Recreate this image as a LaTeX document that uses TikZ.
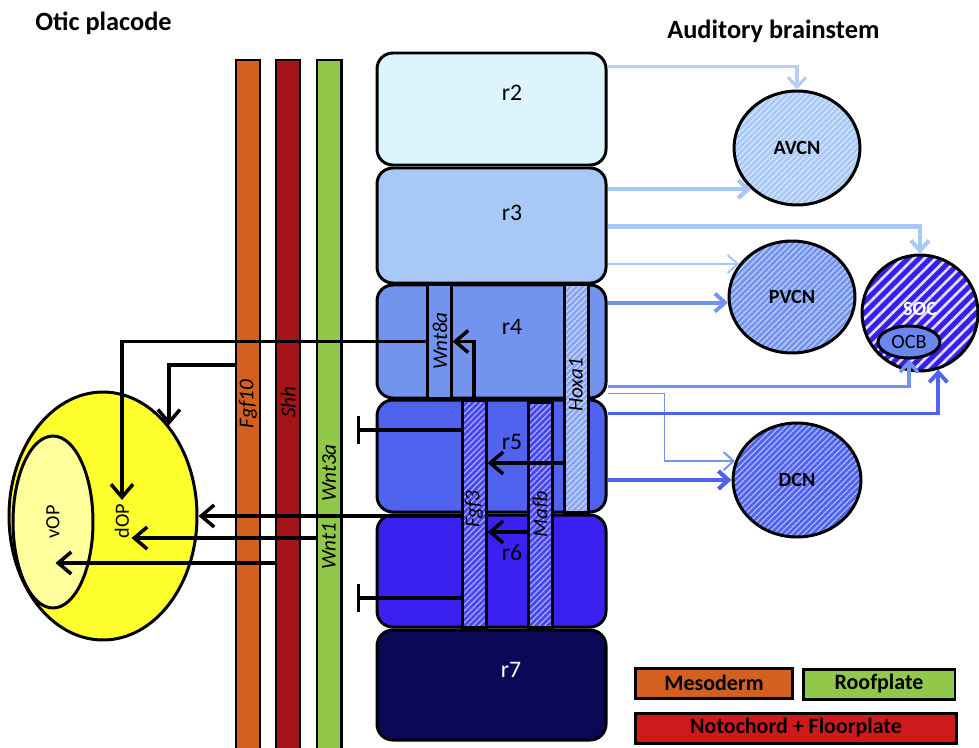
\documentclass[tikz,border=0pt]{standalone}
\usepackage{fontspec}
\setmainfont{Carlito}
\usetikzlibrary{arrows.meta,positioning,fit,calc,patterns.meta,shapes.geometric}
\definecolor{mesoorange}{HTML}{D4601F}
\definecolor{shhred}{HTML}{A51419}
\definecolor{roofgreen}{HTML}{92C84A}
\definecolor{notored}{HTML}{CE1A1C}
\definecolor{oticyellow}{HTML}{FFFF2E}
\definecolor{vopyellow}{HTML}{FFFF9C}
\definecolor{rtwo}{HTML}{DCF4FC}
\definecolor{rthree}{HTML}{A8C8F5}
\definecolor{rfour}{HTML}{7394EE}
\definecolor{rfive}{HTML}{4F63EE}
\definecolor{rsix}{HTML}{3B20F2}
\definecolor{rseven}{HTML}{0B0957}
\definecolor{arrtwo}{HTML}{B5CFF6}
\definecolor{hoxblue}{HTML}{8AA5F2}
\definecolor{fgfblue}{HTML}{4747F0}
\definecolor{socblue}{HTML}{3A1EEF}
\definecolor{ocbblue}{HTML}{6A86F0}
\tikzset{
  sigbar/.style={draw, line width=1.7pt, inner sep=0pt},
  rhombo/.style={draw, line width=1.7pt, rounded corners=9pt, inner sep=0pt},
  genebar/.style={draw, line width=1.7pt, inner sep=0pt},
  hatched/.style={preaction={fill=#1}, pattern={Lines[angle=45,distance=2.4pt,line width=0.7pt]}, pattern color=white!55!#1},
  nucleus/.style={ellipse, draw, line width=1.7pt, inner sep=0pt, font=\fontsize{11.5}{13}\selectfont\bfseries},
  gene/.style={rotate=90, inner sep=0pt, font=\fontsize{12}{14}\selectfont\itshape},
  oplabel/.style={rotate=90, inner sep=2pt, font=\fontsize{11.5}{13}\selectfont},
  rlabel/.style={inner sep=0pt, font=\fontsize{13.5}{15}\selectfont},
  headline/.style={anchor=west, inner sep=0pt, font=\fontsize{15}{18}\selectfont\bfseries},
  legbox/.style={draw, line width=1.7pt, inner sep=0pt, minimum height=0.6cm, font=\fontsize{12.5}{14}\selectfont\bfseries},
  blk/.style={line width=2pt, -{Straight Barb[length=2.6mm,width=4.4mm]}},
  inhib/.style={line width=2pt, -{Bar[width=5.6mm]}},
  outarrow/.style={line width=#1, -{Straight Barb[length=2mm,width=3.6mm]}}
}
\begin{document}
\begin{tikzpicture}[x=0.02cm, y=-0.02cm]
\useasboundingbox (0,0) rectangle (979,747);

\node[headline] (otictitle) at (35,23) {Otic placode};
\node[headline] (abtitle) at (667,31) {Auditory brainstem};

% signalling sources
\node[sigbar, fill=mesoorange, fit={(236,60) (260,760)}] (fgf10) {};
\node[sigbar, fill=shhred, fit={(276,60) (300,760)}] (shh) {};
\node[sigbar, fill=roofgreen, fit={(317,60) (341,760)}] (wnt3a) {};
\node[gene] (lfgf10) at (248,404) {Fgf10};
\node[gene] (lshh) at (288,402) {Shh};
\node[gene] (lwnt3a) at (329,473) {Wnt3a};
\node[gene] (lwnt1) at (329,546) {Wnt1};

% otic placode
\node[ellipse, draw, line width=1.7pt, fill=oticyellow, minimum width=3.76cm, minimum height=4.96cm] (otic) at (103,516) {};
\node[ellipse, draw, line width=1.7pt, fill=vopyellow, minimum width=1.6cm, minimum height=3.44cm] (vopzone) at (53,522) {};
\node[oplabel] (vop) at (53,522) {vOP};
\node[oplabel] (dop) at (122,521) {dOP};

% rhombomeres
\node[rhombo, fill=rtwo, fit={(377,53) (606,165)}] (r2) {};
\node[rhombo, fill=rthree, fit={(377,168) (606,283)}] (r3) {};
\node[rhombo, fill=rfour, fit={(377,285) (606,398)}] (r4) {};
\node[rhombo, fill=rfive, fit={(377,400) (606,512)}] (r5) {};
\node[rhombo, fill=rsix, fit={(377,515) (606,627)}] (r6) {};
\node[rhombo, fill=rseven, fit={(377,630) (606,740)}] (r7) {};
\node[rlabel] (lr2) at (512,93) {r2};
\node[rlabel] (lr3) at (512,213) {r3};
\node[rlabel] (lr4) at (512,327) {r4};
\node[rlabel] (lr5) at (512,442) {r5};
\node[rlabel] (lr6) at (512,553) {r6};
\node[rlabel, text=white] (lr7) at (511,670) {r7};

\node[genebar, fill=rfour, fit={(427,285) (451,398)}] (wnt8a) {};
\node[genebar, hatched=hoxblue, fit={(564,285) (588,512)}] (hoxa1) {};
\node[genebar, hatched=fgfblue, fit={(462,400) (486,627)}] (fgf3) {};
\node[genebar, hatched=fgfblue, fit={(528,402) (552,627)}] (mafb) {};
\node[gene] (lwnt8a) at (440,341) {Wnt8a};
\node[gene] (lhoxa1) at (576,385) {Hoxa1};
\node[gene] (lfgf3) at (474,509) {Fgf3};
\node[gene] (lmafb) at (540,514) {Mafb};

% auditory nuclei
\node[nucleus, hatched=rthree, minimum width=2.52cm, minimum height=2.28cm] (avcn) at (797,148) {AVCN};
\node[nucleus, hatched=rfour, minimum width=2.52cm, minimum height=2.24cm] (pvcn) at (792,297) {PVCN};
\node[nucleus, preaction={fill=socblue}, pattern={Lines[angle=45,distance=4.5pt,line width=1.5pt]}, pattern color=white!85!socblue, minimum size=2.32cm, text=white, text depth=5pt] (soc) at (920,313) {SOC};
\node[nucleus, fill=ocbblue, minimum width=1.24cm, minimum height=0.64cm, font=\fontsize{11.5}{13}\selectfont] (ocb) at (909,342) {OCB};
\node[nucleus, hatched=rfive, minimum width=2.56cm, minimum height=2.28cm] (dcn) at (797,480) {DCN};

% projections to the brainstem
\draw[outarrow=1.8pt, draw=arrtwo] ($(r2.north east)+(0,15)$) -| (avcn.north);
\draw[outarrow=2.4pt, draw=rthree] (avcn.222 -| r3.east) -- (avcn.222);
\draw[outarrow=2.4pt, draw=rthree] ($(r3.north east)+(0,60)$) -| (soc.north);
\draw[outarrow=1.2pt, draw=rthree] (pvcn.148 -| r3.east) -- (pvcn.148);
\draw[outarrow=2.2pt, draw=rfour] (pvcn.185 -| r4.east) -- (pvcn.185);
\draw[outarrow=2pt, draw=rfour] ($(r4.south east)+(0,-13)$) -| (ocb.south);
\draw[outarrow=1.1pt, draw=rfour] ($(r4.south east)+(0,-6)$) -- ++(57,0) |- (dcn.163);
\draw[outarrow=2.2pt, draw=rfive] ($(r5.north east)+(0,15)$) -| (soc.288);
\draw[outarrow=2.4pt, draw=rfive] (dcn.west -| r5.east) -- (dcn.west);

% signals to the otic placode
\draw[blk] (wnt8a.west) -| (dop.east);
\draw[blk] (fgf10.west |- 0,365) -| (otic.54);
\draw[blk] (fgf3.west |- otic.east) -- (otic.east);
\draw[blk] (wnt3a.west |- 0,538) -- ++(-184,0);
\draw[blk] (shh.west |- 0,563) -- ++(-219,0);
\draw[inhib] (fgf3.west |- 0,430) -- ++(-104,0);
\draw[inhib] (fgf3.west |- 0,598) -- ++(-104,0);

% within the hindbrain
\draw[blk] (fgf3.north) |- (wnt8a.east);
\draw[blk] (hoxa1.west |- 0,463) -- (fgf3.east |- 0,463);
\draw[blk] (mafb.west |- 0,532) -- (fgf3.east |- 0,532);

% legend
\node[legbox, fill=mesoorange, minimum width=3.14cm] (legmeso) at (714,683) {Mesoderm};
\node[legbox, fill=roofgreen, minimum width=3.04cm] (legroof) at (879,684) {Roofplate};
\node[legbox, fill=notored, minimum width=6.44cm] (legnoto) at (796,728) {Notochord + Floorplate};
\end{tikzpicture}
\end{document}
